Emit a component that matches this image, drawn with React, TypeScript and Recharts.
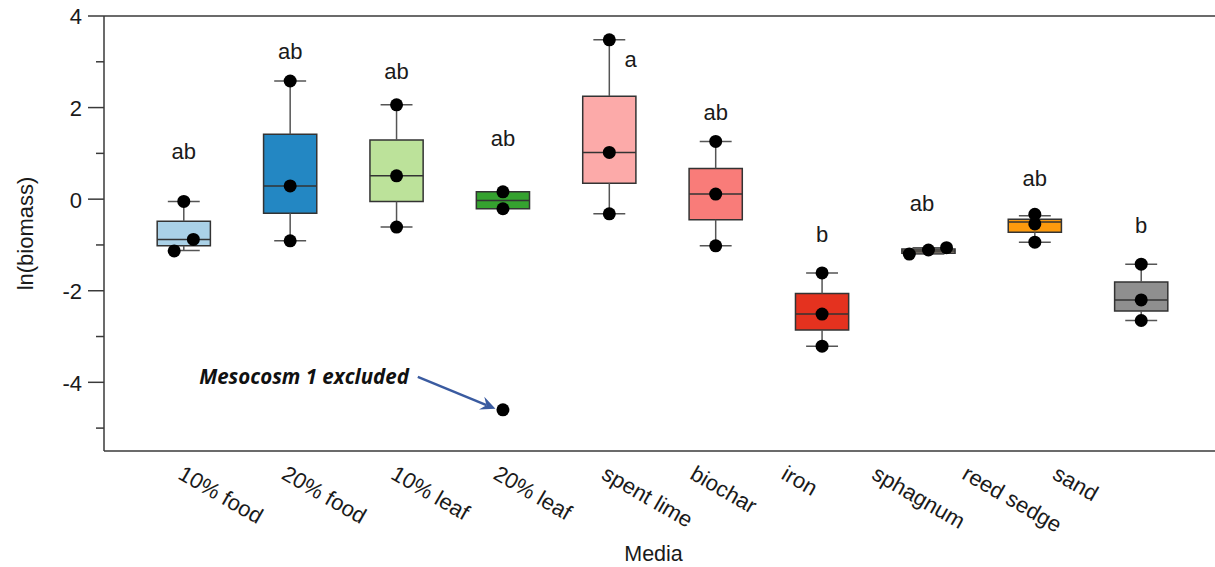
import React from 'react';
import { ComposedChart, XAxis, YAxis, Scatter, ReferenceArea, ReferenceLine } from 'recharts';

// ---------- data ----------
const categories = ['10% food', '20% food', '10% leaf', '20% leaf', 'spent lime', 'biochar', 'iron', 'sphagnum', 'reed sedge', 'sand'];
const whiskerLow = [-1.12, -0.91, -0.61, -0.21, -0.32, -1.02, -3.21, -1.20, -0.94, -2.65];
const boxLow = [-1.02, -0.31, -0.05, -0.21, 0.35, -0.45, -2.86, -1.18, -0.72, -2.44];
const medians = [-0.88, 0.29, 0.51, -0.03, 1.02, 0.11, -2.51, -1.13, -0.50, -2.20];
const boxHigh = [-0.48, 1.42, 1.29, 0.16, 2.25, 0.67, -2.06, -1.09, -0.44, -1.81];
const whiskerHigh = [-0.05, 2.58, 2.06, 0.16, 3.48, 1.26, -1.61, -1.06, -0.36, -1.42];

const observations = [
  [-0.05, -0.88, -1.13],
  [2.58, 0.29, -0.91],
  [2.06, 0.51, -0.61],
  [0.16, -0.21],
  [3.48, 1.02, -0.32],
  [1.26, 0.11, -1.02],
  [-1.61, -2.51, -3.21],
  [-1.20, -1.11, -1.06],
  [-0.33, -0.54, -0.94],
  [-1.42, -2.20, -2.65],
];
const jitter = [
  [0, 0.09, -0.09],
  [0, 0, 0],
  [0, 0, 0],
  [0, 0],
  [0, 0, 0],
  [0, 0, 0],
  [0, 0, 0],
  [-0.18, 0, 0.17],
  [0, 0, 0],
  [0, 0, 0],
];
const excludedCategory = 3; // 20% leaf
const excludedValue = -4.6;

const letters = ['ab', 'ab', 'ab', 'ab', 'a', 'ab', 'b', 'ab', 'ab', 'b'];
const letterY = [0.87, 3.06, 2.62, 1.16, 2.88, 1.73, -0.94, -0.26, 0.29, -0.74];
const letterDx = [0, 0, 0, 0, 0.2, 0, 0, -0.06, 0, 0];

const yTicks = [-5, -4, -3, -2, -1, 0, 1, 2, 3, 4];
const xTicks = categories.map((_, i) => i);

// annotation arrow (data coordinates)
const arrowFrom = { x: 2.2, y: -3.88 };
const arrowTo = { x: 2.93, y: -4.58 };

// ---------- styles ----------
const boxColors = ['#AAD1E7', '#2387C3', '#BCE29A', '#35A22F', '#FCAAA9', '#F97C79', '#E4321F', '#A99A88', '#FD9A0D', '#8F8F8F'];
const FONT = '"Liberation Sans", Arial, Helvetica, sans-serif';
const INK = '#1a1a1a';
const AXIS = '#3a3a3a';
const BOX_HALF = 0.25;
const CAP_HALF = 0.15;
const tickLabelShift = [-7, -10, -7, -11, -9, -27, -42, -58, -74, -90];

// ---------- derived ----------
const pointData = categories.flatMap((_, i) =>
  observations[i].map((v, j) => ({ x: i + jitter[i][j], y: v }))
);
const excludedData = [{ x: excludedCategory, y: excludedValue }];
const letterData = categories.map((_, i) => ({ x: i + letterDx[i], y: letterY[i], label: letters[i] }));

const Dot = (p: any) => <circle cx={p.cx} cy={p.cy} r={6.5} fill="#000" />;
const LetterShape = (p: any) => (
  <text x={p.cx} y={p.cy} textAnchor="middle" fontSize={22} fontFamily={FONT} fill={INK}>
    {p.payload.label}
  </text>
);

const YTick = (p: any) => {
  const { x, y, payload } = p;
  const major = payload.value % 2 === 0;
  return (
    <g>
      <line x1={x + (major ? 6 : 14)} x2={x + 22} y1={y} y2={y} stroke={AXIS} strokeWidth={1.5} />
      {major && (
        <text x={x} y={y} dy="0.38em" textAnchor="end" fontSize={22} fontFamily={FONT} fill={INK}>
          {payload.value}
        </text>
      )}
    </g>
  );
};

const XTick = (p: any) => {
  const { x, y, payload } = p;
  const i = Math.round(payload.value);
  const tx = x + tickLabelShift[i];
  const ty = y + 27;
  return (
    <text x={tx} y={ty} transform={`rotate(30 ${tx} ${ty})`} textAnchor="start" fontSize={22} fontFamily={FONT} fill={INK}>
      {categories[i]}
    </text>
  );
};

const ArrowShape = (p: any) => {
  const { x1, y1, x2, y2 } = p;
  const ang = Math.atan2(y2 - y1, x2 - x1);
  const L = 15;
  const W = 7;
  const ux = Math.cos(ang);
  const uy = Math.sin(ang);
  const nx = -uy;
  const ny = ux;
  const bx = x2 - L * ux;
  const by = y2 - L * uy;
  const notchX = x2 - L * 0.65 * ux;
  const notchY = y2 - L * 0.65 * uy;
  const pts = [
    [x2, y2],
    [bx + W * nx, by + W * ny],
    [notchX, notchY],
    [bx - W * nx, by - W * ny],
  ]
    .map((q) => q.join(','))
    .join(' ');
  return (
    <g>
      <line x1={x1} y1={y1} x2={notchX} y2={notchY} stroke="#3A5BA0" strokeWidth={2.5} />
      <polygon points={pts} fill="#3A5BA0" />
      <text
        x={x1 - 9}
        y={y1 + 7}
        textAnchor="end"
        fontSize={20.5}
        fontWeight="bold"
        fontStyle="italic"
        fontFamily='"Open Sans", "Noto Sans", sans-serif'
        fill="#111"
      >
        Mesocosm 1 excluded
      </text>
    </g>
  );
};

export default function App() {
  return (
    <div style={{ position: 'absolute', left: 0, top: 0, width: 1215, height: 567, overflow: 'hidden', background: '#fff' }}>
      <ComposedChart width={1221} height={567} margin={{ top: 16, right: 0, bottom: 0, left: 0 }}>
        <XAxis
          type="number"
          dataKey="x"
          domain={[-0.75, 9.75]}
          ticks={xTicks}
          interval={0}
          allowDataOverflow
          tickLine={false}
          tickSize={0}
          tickMargin={0}
          height={116}
          axisLine={{ stroke: AXIS, strokeWidth: 1.5 }}
          tick={<XTick />}
          label={{ value: 'Media', position: 'insideBottom', offset: 6, dx: -9, style: { fontSize: 21.5, fontFamily: FONT, fill: INK } }}
        />
        <YAxis
          type="number"
          dataKey="y"
          domain={[-5.5, 4]}
          ticks={yTicks}
          interval={0}
          allowDataOverflow
          width={104}
          tickLine={false}
          tickSize={16}
          tickMargin={6}
          axisLine={{ stroke: AXIS, strokeWidth: 1.5 }}
          tick={<YTick />}
          label={{
            value: 'ln(biomass)',
            angle: -90,
            position: 'insideLeft',
            offset: 25,
            style: { textAnchor: 'middle', fontSize: 22, fontFamily: FONT, fill: INK },
          }}
        />
        <ReferenceLine y={4} stroke={AXIS} strokeWidth={1.5} />

        {categories.map((c, i) =>
          whiskerHigh[i] > boxHigh[i] ? (
            <ReferenceLine
              key={`wh-${c}`}
              segment={[{ x: i, y: boxHigh[i] }, { x: i, y: whiskerHigh[i] }]}
              stroke="#555"
              strokeWidth={1.5}
            />
          ) : null
        )}
        {categories.map((c, i) =>
          whiskerLow[i] < boxLow[i] ? (
            <ReferenceLine
              key={`wl-${c}`}
              segment={[{ x: i, y: boxLow[i] }, { x: i, y: whiskerLow[i] }]}
              stroke="#555"
              strokeWidth={1.5}
            />
          ) : null
        )}
        {categories.map((c, i) =>
          whiskerHigh[i] > boxHigh[i] ? (
            <ReferenceLine
              key={`ch-${c}`}
              segment={[{ x: i - CAP_HALF, y: whiskerHigh[i] }, { x: i + CAP_HALF, y: whiskerHigh[i] }]}
              stroke="#555"
              strokeWidth={1.5}
            />
          ) : null
        )}
        {categories.map((c, i) =>
          whiskerLow[i] < boxLow[i] ? (
            <ReferenceLine
              key={`cl-${c}`}
              segment={[{ x: i - CAP_HALF, y: whiskerLow[i] }, { x: i + CAP_HALF, y: whiskerLow[i] }]}
              stroke="#555"
              strokeWidth={1.5}
            />
          ) : null
        )}
        {categories.map((c, i) => (
          <ReferenceArea
            key={`box-${c}`}
            x1={i - BOX_HALF}
            x2={i + BOX_HALF}
            y1={boxLow[i]}
            y2={boxHigh[i]}
            fill={boxColors[i]}
            fillOpacity={1}
            stroke="#333"
            strokeWidth={1.5}
            strokeOpacity={1}
          />
        ))}
        {categories.map((c, i) => (
          <ReferenceLine
            key={`med-${c}`}
            segment={[{ x: i - BOX_HALF, y: medians[i] }, { x: i + BOX_HALF, y: medians[i] }]}
            stroke="#333"
            strokeWidth={1.5}
          />
        ))}
        <ReferenceLine segment={[arrowFrom, arrowTo]} shape={<ArrowShape />} />

        <Scatter data={pointData} shape={<Dot />} isAnimationActive={false} />
        <Scatter data={excludedData} shape={<Dot />} isAnimationActive={false} />
        <Scatter data={letterData} shape={<LetterShape />} isAnimationActive={false} />
      </ComposedChart>
    </div>
  );
}
